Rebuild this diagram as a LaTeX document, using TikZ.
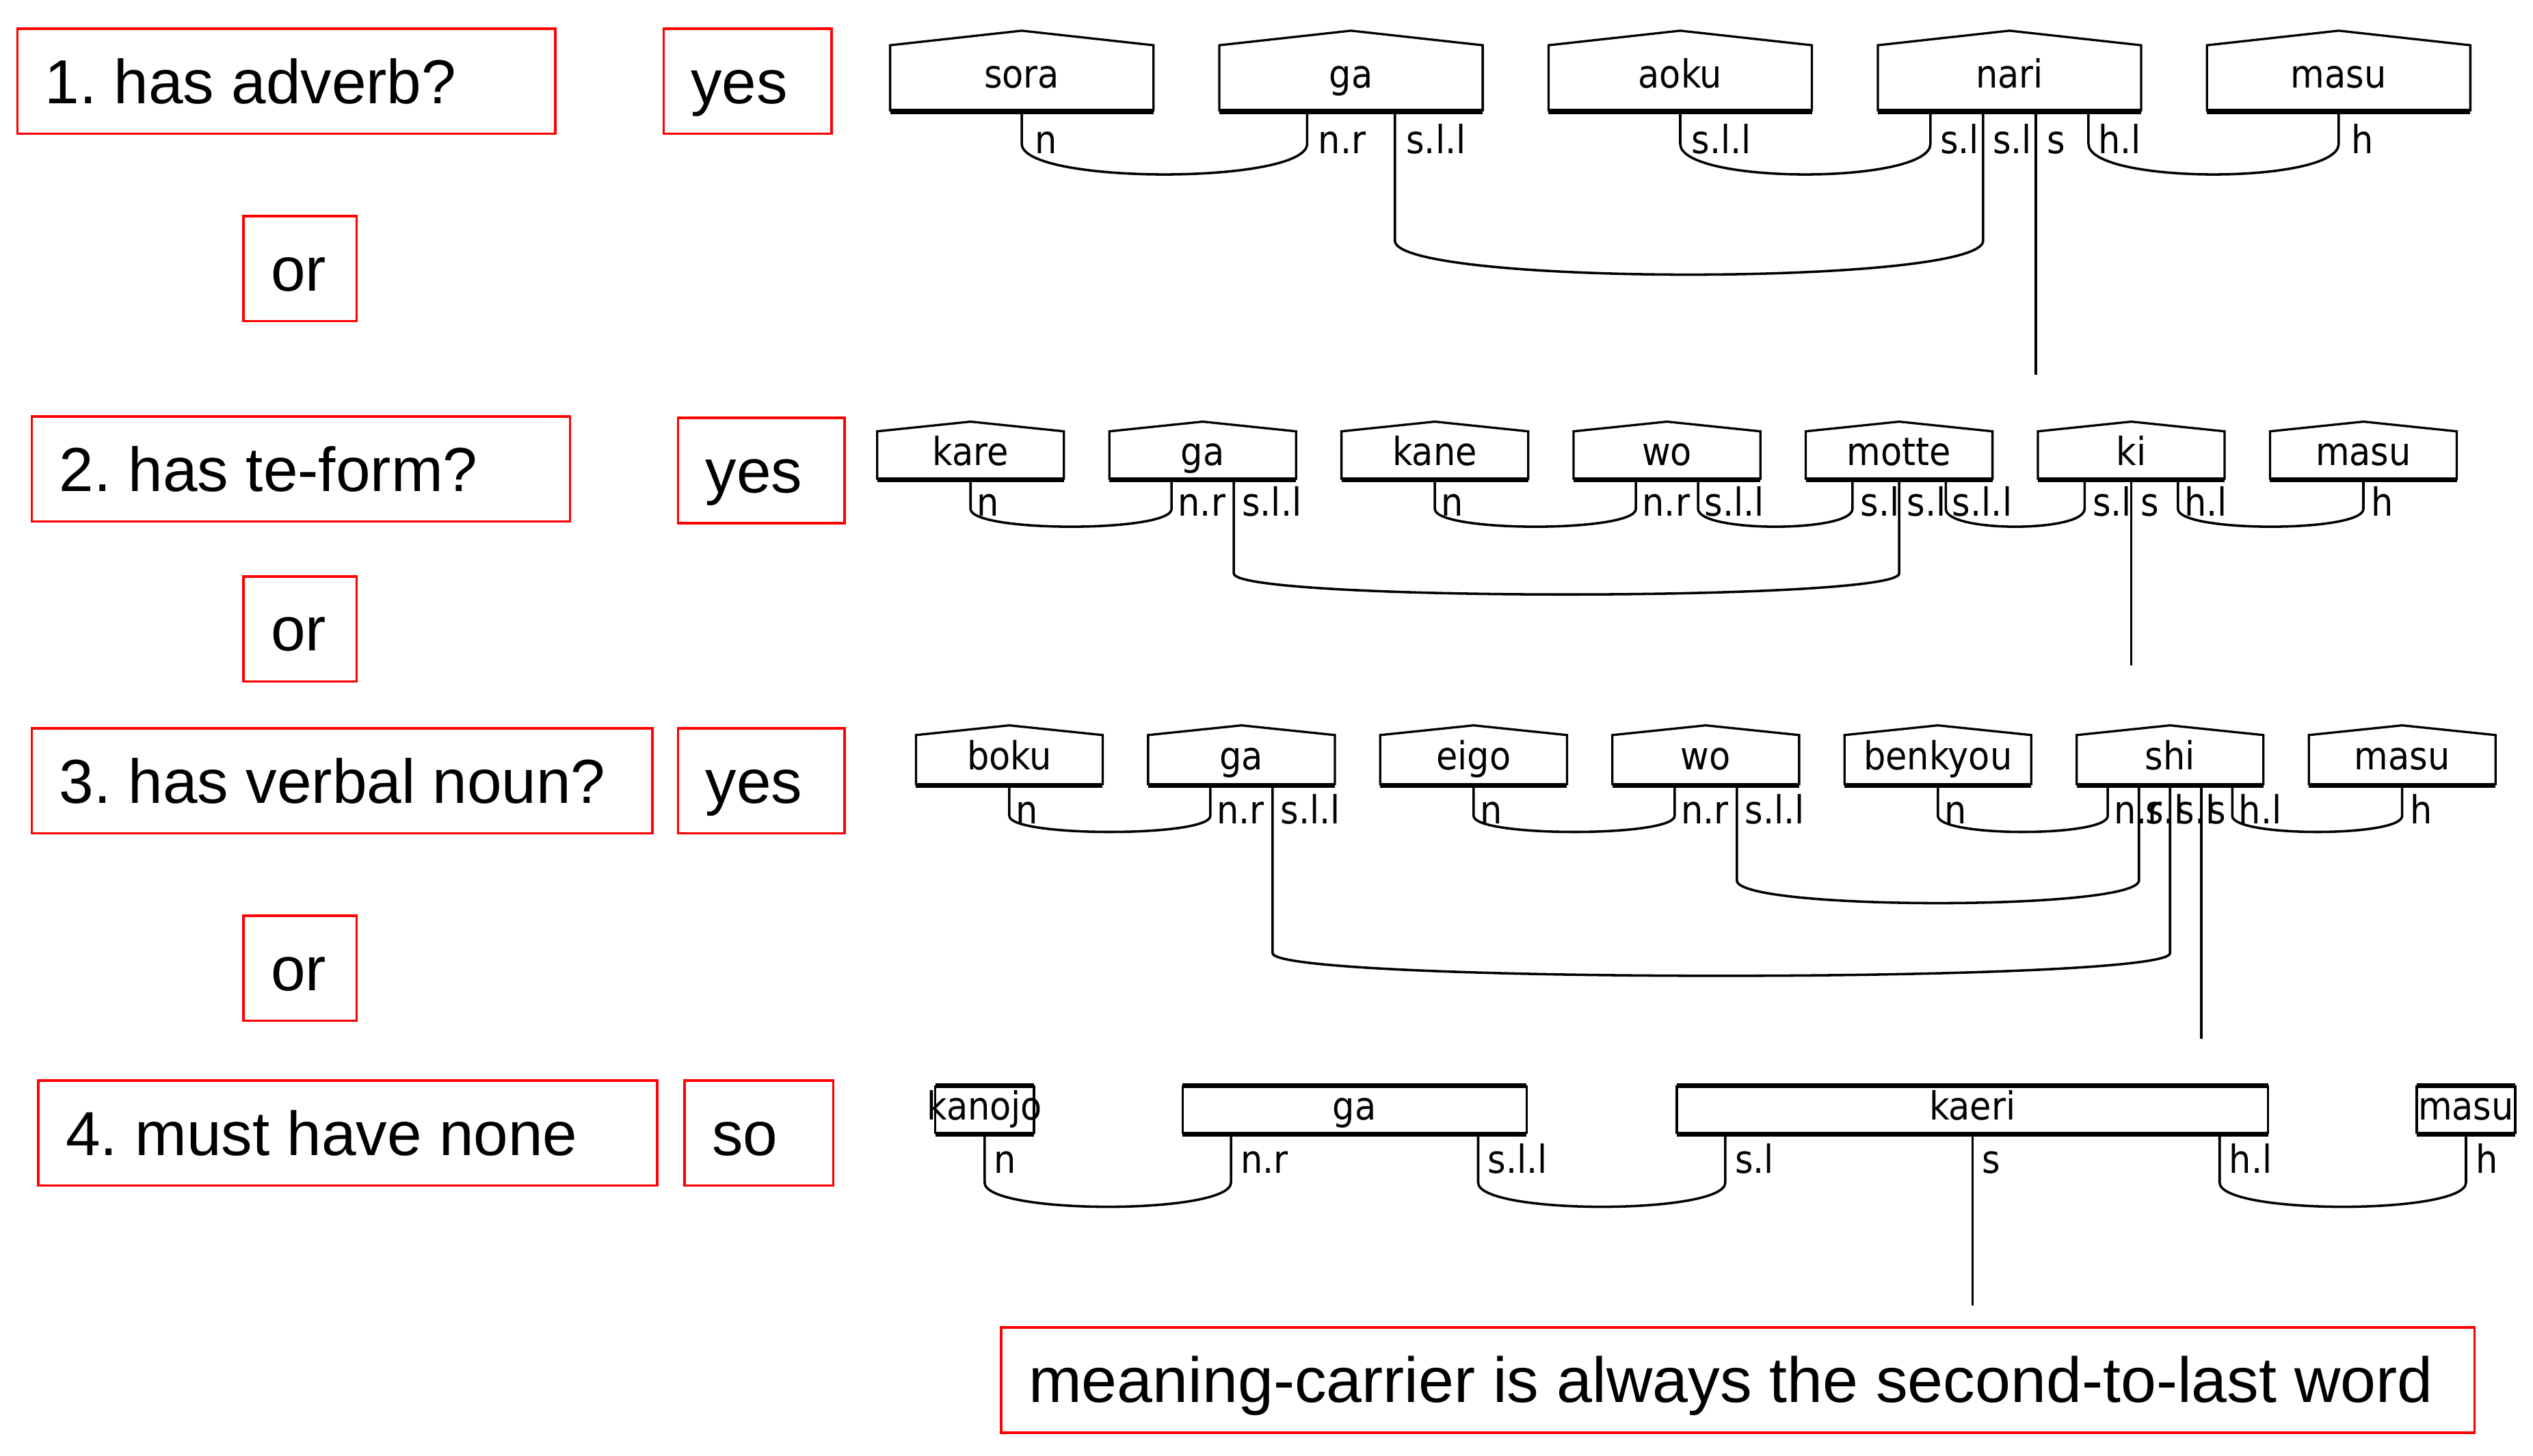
\documentclass[tikz,border=0pt]{standalone}
\usepackage{fontspec}
\setmainfont{Liberation Sans}
\newfontfamily\depfont{DejaVu Sans Condensed}
\usetikzlibrary{calc}
\frenchspacing

\tikzset{
  redbox/.style={draw=red, line width=1.5pt, anchor=north west, inner xsep=17pt, inner ysep=0pt,
    minimum height=65pt, font=\fontsize{38.5}{44}\selectfont, text height=27.5pt, text depth=0pt},
  wordbox/.style={inner sep=0pt, outer sep=0pt, anchor=south west,
    font=\depfont\fontsize{24}{28}\selectfont, text height=17pt, text depth=5pt},
  boxline/.style={line width=1.4pt, line join=miter},
  boxbase/.style={line width=3pt},
  wire/.style={line width=1.5pt},
  lab/.style={inner sep=0pt, outer sep=0pt, anchor=base west, font=\depfont\fontsize{24}{28}\selectfont},
}

% red box: name, top-left x, top-left y, width, text
\newcommand\rbox[5]{\node[redbox] (#1) at (#2,#3) {\makebox[\dimexpr #4pt-34pt\relax][l]{#5}};}
% name, left, bottom, width, height, roof rise, text
\newcommand\house[7]{%
  \node[wordbox, minimum width=#4pt, minimum height=#5pt] (#1) at (#2,#3) {\makebox[0pt]{#7}};
  \draw[boxline] (#1.south west) -- (#1.north west) -- ($(#1.north)+(0,-#6)$) -- (#1.north east) -- (#1.south east);
  \draw[boxbase] (#1.south west) -- (#1.south east);
}
% name, left, bottom, width, text
\newcommand\flatbox[5]{%
  \node[wordbox, minimum width=#4pt, minimum height=30pt] (#1) at (#2,#3) {\makebox[0pt]{#5}};
  \draw[boxline] (#1.south west) -- (#1.north west) (#1.south east) -- (#1.north east);
  \draw[boxbase] (#1.south west) -- (#1.south east) (#1.north west) -- (#1.north east);
}
% name, number of ports
\newcommand\mkports[2]{%
  \foreach \k in {1,...,#2}{\coordinate (#1-\k) at ($(#1.south west)!{\k/(#2+1)}!(#1.south east)$);}
}
% port, text, baseline offset, x offset
\newcommand\plabel[4]{\node[lab] (#1-lab) at ($(#1)+(#4,#3)$) {#2};}
% portA, portB, y where the curve starts, y of control points
\newcommand\cupw[4]{%
  \draw[wire] let \p1=(#1), \p2=(#2), \p3=(0,#3), \p4=(0,#4) in
    (\p1) -- (\x1,\y3) .. controls (\x1,\y4) and (\x2,\y4) .. (\x2,\y3) -- (\p2);
}

\begin{document}
\begin{tikzpicture}[x=1pt,y=-1pt]
\fill[white] (0,0) rectangle (1568,901);
\useasboundingbox (0,0) rectangle (1568,901);

% ---------- red boxes ----------
\rbox{q1}{10}{17}{333}{1. has adverb?}
\rbox{y1}{410}{17}{104}{yes}
\rbox{or1}{150}{133}{70}{or}
\rbox{q2}{19}{257}{333}{2. has te-form?}
\rbox{y2}{419}{258}{103}{yes}
\rbox{or2}{150}{356}{70}{or}
\rbox{q3}{19}{450}{384}{3. has verbal noun?}
\rbox{y3}{419}{450}{103}{yes}
\rbox{or3}{150}{566}{70}{or}
\rbox{q4}{23}{668}{383}{4. must have none}
\rbox{so}{423}{668}{92}{so}
\rbox{mc}{619}{821}{912}{\fontsize{39.5}{44}\selectfont meaning-carrier is always the second-to-last word}

% ---------- row 1 ----------
\house{r1a}{551}{69}{163}{41}{9}{sora}
\house{r1b}{754.8}{69}{163}{41}{9}{ga}
\house{r1c}{958.6}{69}{163}{41}{9}{aoku}
\house{r1d}{1162.4}{69}{163}{41}{9}{nari}
\house{r1e}{1366.2}{69}{163}{41}{9}{masu}
\mkports{r1a}{1}\mkports{r1b}{2}\mkports{r1c}{1}\mkports{r1d}{4}\mkports{r1e}{1}
\cupw{r1a-1}{r1b-1}{89}{114.3}
\cupw{r1b-2}{r1d-2}{149}{177}
\cupw{r1c-1}{r1d-1}{89}{114.3}
\cupw{r1d-4}{r1e-1}{89}{114.3}
\coordinate (r1out) at ($(r1d-3)+(0,163)$);
\draw[wire] (r1d-3) -- (r1out);
\plabel{r1a-1}{n}{26}{8}
\plabel{r1b-1}{n.r}{26}{7}
\plabel{r1b-2}{s.l.l}{26}{7}
\plabel{r1c-1}{s.l.l}{26}{7}
\plabel{r1d-1}{s.l}{26}{6}
\plabel{r1d-2}{s.l}{26}{6}
\plabel{r1d-3}{s}{26}{7}
\plabel{r1d-4}{h.l}{26}{6}
\plabel{r1e-1}{h}{26}{8}

% ---------- row 2 ----------
\house{r2a}{543}{297}{115.6}{30}{6}{kare}
\house{r2b}{686.7}{297}{115.6}{30}{6}{ga}
\house{r2c}{830.4}{297}{115.6}{30}{6}{kane}
\house{r2d}{974.1}{297}{115.6}{30}{6}{wo}
\house{r2e}{1117.8}{297}{115.6}{30}{6}{motte}
\house{r2f}{1261.5}{297}{115.6}{30}{6}{ki}
\house{r2g}{1405.2}{297}{115.6}{30}{6}{masu}
\mkports{r2a}{1}\mkports{r2b}{2}\mkports{r2c}{1}\mkports{r2d}{2}\mkports{r2e}{3}\mkports{r2f}{3}\mkports{r2g}{1}
\cupw{r2a-1}{r2b-1}{315}{329.7}
\cupw{r2b-2}{r2e-2}{355}{372.3}
\cupw{r2c-1}{r2d-1}{315}{329.7}
\cupw{r2d-2}{r2e-1}{315}{329.7}
\cupw{r2e-3}{r2f-1}{315}{329.7}
\cupw{r2f-3}{r2g-1}{315}{329.7}
\coordinate (r2out) at ($(r2f-2)+(0,115)$);
\draw[wire] (r2f-2) -- (r2out);
\plabel{r2a-1}{n}{22.5}{4}
\plabel{r2b-1}{n.r}{22.5}{4}
\plabel{r2b-2}{s.l.l}{22.5}{5}
\plabel{r2c-1}{n}{22.5}{4}
\plabel{r2d-1}{n.r}{22.5}{4}
\plabel{r2d-2}{s.l.l}{22.5}{4}
\plabel{r2e-1}{s.l}{22.5}{5}
\plabel{r2e-2}{s.l}{22.5}{5}
\plabel{r2e-3}{s.l.l}{22.5}{4}
\plabel{r2f-1}{s.l}{22.5}{5}
\plabel{r2f-2}{s}{22.5}{6}
\plabel{r2f-3}{h.l}{22.5}{4}
\plabel{r2g-1}{h}{22.5}{5}

% ---------- row 3 ----------
\house{r3a}{567}{486}{115.6}{31}{6}{boku}
\house{r3b}{710.7}{486}{115.6}{31}{6}{ga}
\house{r3c}{854.4}{486}{115.6}{31}{6}{eigo}
\house{r3d}{998.1}{486}{115.6}{31}{6}{wo}
\house{r3e}{1141.8}{486}{115.6}{31}{6}{benkyou}
\house{r3f}{1285.5}{486}{115.6}{31}{6}{shi}
\house{r3g}{1429.2}{486}{115.6}{31}{6}{masu}
\mkports{r3a}{1}\mkports{r3b}{2}\mkports{r3c}{1}\mkports{r3d}{2}\mkports{r3e}{1}\mkports{r3f}{5}\mkports{r3g}{1}
\cupw{r3a-1}{r3b-1}{505}{518.3}
\cupw{r3b-2}{r3f-3}{590}{608.7}
\cupw{r3c-1}{r3d-1}{505}{518.3}
\cupw{r3d-2}{r3f-2}{545}{563.7}
\cupw{r3e-1}{r3f-1}{505}{518.3}
\cupw{r3f-5}{r3g-1}{505}{518.3}
\coordinate (r3out) at ($(r3f-4)+(0,157)$);
\draw[wire] (r3f-4) -- (r3out);
\plabel{r3a-1}{n}{24}{4}
\plabel{r3b-1}{n.r}{24}{4}
\plabel{r3b-2}{s.l.l}{24}{5}
\plabel{r3c-1}{n}{24}{4}
\plabel{r3d-1}{n.r}{24}{4}
\plabel{r3d-2}{s.l.l}{24}{5}
\plabel{r3e-1}{n}{24}{4}
\plabel{r3f-1}{n.r}{24}{4}
\plabel{r3f-2}{s.l}{24}{4}
\plabel{r3f-3}{s.l}{24}{4}
\plabel{r3f-4}{s}{24}{4}
\plabel{r3f-5}{h.l}{24}{4}
\plabel{r3g-1}{h}{24}{5}

% ---------- row 4 ----------
\flatbox{r4a}{579}{702}{61}{kanojo}
\flatbox{r4b}{732}{702}{213}{ga}
\flatbox{r4c}{1038}{702}{366}{kaeri}
\flatbox{r4d}{1496}{702}{61}{masu}
\coordinate (r4a-1) at (r4a.south);
\coordinate (r4b-1) at ($(r4b.south west)+(30,0)$);
\coordinate (r4b-2) at ($(r4b.south east)+(-30,0)$);
\coordinate (r4c-1) at ($(r4c.south west)+(30,0)$);
\coordinate (r4c-2) at (r4c.south);
\coordinate (r4c-3) at ($(r4c.south east)+(-30,0)$);
\coordinate (r4d-1) at (r4d.south);
\cupw{r4a-1}{r4b-1}{732}{752}
\cupw{r4b-2}{r4c-1}{732}{752}
\cupw{r4c-3}{r4d-1}{732}{752}
\coordinate (r4out) at ($(r4c-2)+(0,106)$);
\draw[wire] (r4c-2) -- (r4out);
\plabel{r4a-1}{n}{24}{6}
\plabel{r4b-1}{n.r}{24}{6}
\plabel{r4b-2}{s.l.l}{24}{6}
\plabel{r4c-1}{s.l}{24}{6}
\plabel{r4c-2}{s}{24}{6}
\plabel{r4c-3}{h.l}{24}{6}
\plabel{r4d-1}{h}{24}{6}
\end{tikzpicture}
\end{document}
